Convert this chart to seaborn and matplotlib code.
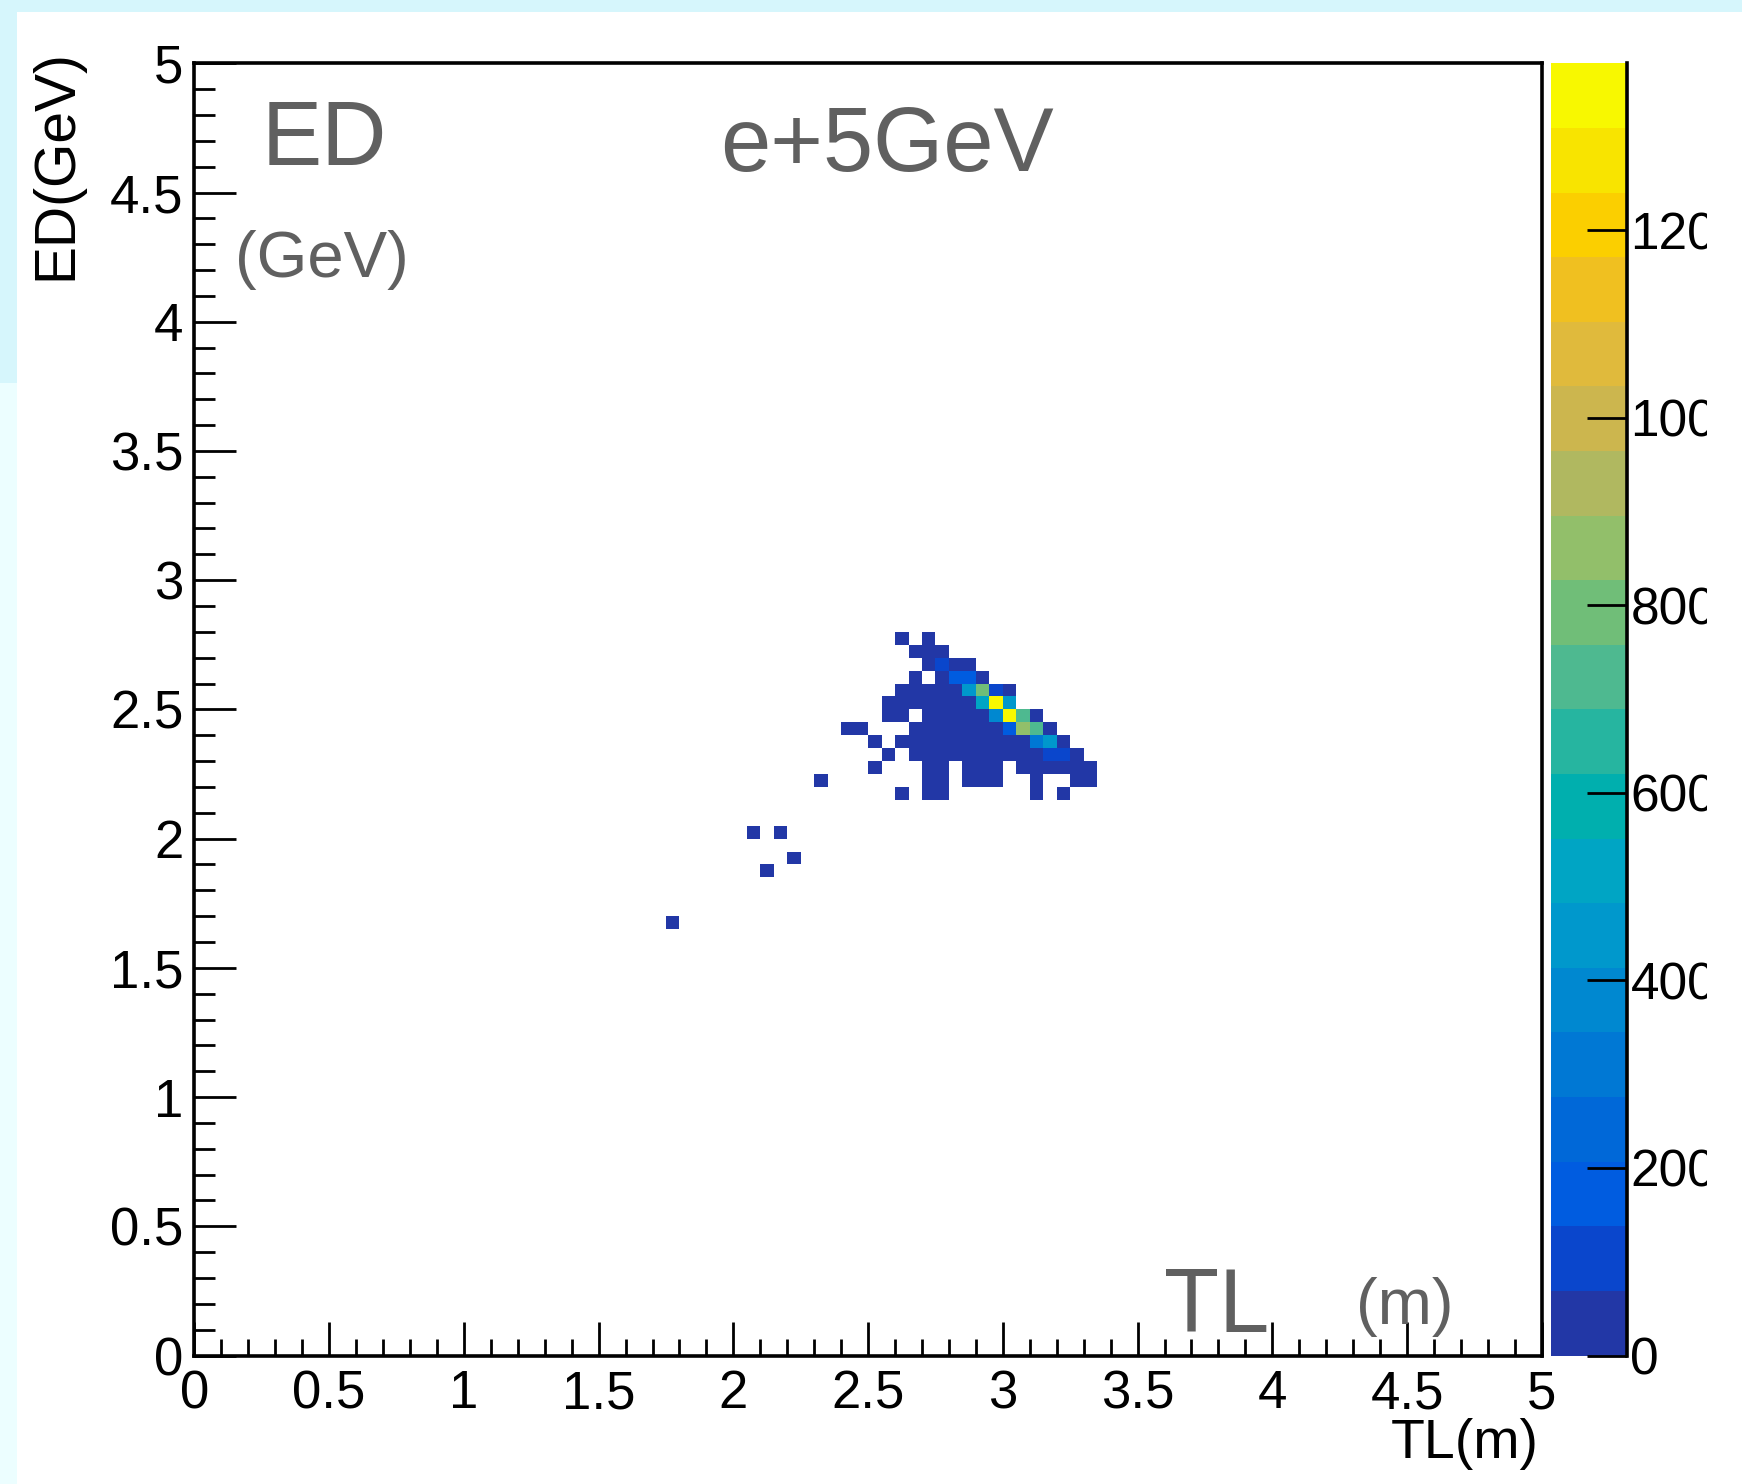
import numpy as np
import pandas as pd
import matplotlib
matplotlib.use("Agg")
import matplotlib.pyplot as plt
from matplotlib.colors import ListedColormap
from matplotlib.patches import Rectangle
from matplotlib.ticker import MultipleLocator
import seaborn as sns

# ---------------- data ----------------
bin_width = 0.05                 # histogram bin size, both axes
n_bins = 100                     # 0..5 in 100 bins
cluster_tl_first_edge = 2.30     # TL lower edge of first cluster column (m)
cluster_ed_top_edge = 2.75       # ED lower edge of top cluster row (GeV)

# counts of the main cluster: rows from top (ED high) to bottom, 21 TL columns
cluster_counts = [
    [0, 0, 0, 0, 0, 0, 12, 0, 8, 0, 0, 0, 0, 0, 0, 0, 0, 0, 0, 0, 0],
    [0, 0, 0, 0, 0, 0, 0, 15, 30, 25, 0, 0, 0, 0, 0, 0, 0, 0, 0, 0, 0],
    [0, 0, 0, 0, 0, 0, 0, 0, 35, 100, 55, 40, 0, 0, 0, 0, 0, 0, 0, 0, 0],
    [0, 0, 0, 0, 0, 0, 0, 10, 0, 60, 190, 195, 45, 0, 0, 0, 0, 0, 0, 0, 0],
    [0, 0, 0, 0, 0, 0, 20, 35, 50, 55, 65, 440, 790, 110, 30, 0, 0, 0, 0, 0, 0],
    [0, 0, 0, 0, 0, 15, 40, 50, 55, 60, 62, 66, 520, 1378, 450, 0, 0, 0, 0, 0, 0],
    [0, 0, 0, 0, 0, 18, 25, 0, 45, 58, 60, 64, 66, 380, 1330, 720, 25, 0, 0, 0, 0],
    [0, 0, 6, 8, 0, 0, 0, 30, 50, 58, 60, 62, 64, 66, 200, 860, 730, 20, 0, 0, 0],
    [0, 0, 0, 0, 5, 0, 12, 35, 48, 52, 55, 58, 60, 62, 64, 66, 290, 480, 22, 0, 0],
    [0, 0, 0, 0, 0, 4, 0, 20, 40, 45, 48, 50, 52, 55, 58, 60, 62, 110, 95, 18, 0],
    [0, 0, 0, 0, 3, 0, 0, 0, 25, 30, 0, 28, 35, 30, 0, 32, 38, 45, 40, 30, 15],
    [2, 0, 0, 0, 0, 0, 0, 0, 12, 18, 0, 14, 20, 16, 0, 0, 15, 0, 0, 12, 8],
    [0, 0, 0, 0, 0, 0, 3, 0, 8, 10, 0, 0, 0, 0, 0, 0, 6, 0, 4, 0, 0],
]

# isolated entries (bin centres)
isolated_tl = [2.075, 2.175, 2.225, 2.125, 1.775]
isolated_ed = [2.025, 2.025, 1.925, 1.875, 1.675]
isolated_counts = [2, 1, 2, 1, 1]

z_max = 1378
cbar_ticks = [0, 200, 400, 600, 800, 1000, 1200]
cbar_tick_labels = ["0", "200", "400", "600", "800", "1000", "1200"]
axis_ticks = [0, 0.5, 1, 1.5, 2, 2.5, 3, 3.5, 4, 4.5, 5]
axis_tick_labels = ["0", "0.5", "1", "1.5", "2", "2.5", "3", "3.5", "4", "4.5", "5"]

# 20-level palette (bottom -> top), as in the reference colour bar
palette_colors = ["#2237A6", "#0A46CC", "#005CE0", "#0068D8", "#0078D4",
                  "#0088D0", "#0098CC", "#00A5C4", "#00AFAE", "#26B5A0",
                  "#4EB990", "#70BE78", "#92BF6A", "#B0B860", "#CCB64E",
                  "#E0BA3C", "#F0C020", "#FBCF00", "#F8E400", "#F8F800"]

# ---------------- build long-form table ----------------
tl_vals, ed_vals, w_vals = [], [], []
for i, row in enumerate(cluster_counts):
    for j, c in enumerate(row):
        if c > 0:
            tl_vals.append(cluster_tl_first_edge + (j + 0.5) * bin_width)
            ed_vals.append(cluster_ed_top_edge + (0.5 - i) * bin_width)
            w_vals.append(c)
tl_vals += isolated_tl
ed_vals += isolated_ed
w_vals += isolated_counts
df = pd.DataFrame({"TL": tl_vals, "ED": ed_vals, "counts": w_vals})

# ---------------- figure ----------------
W, H = 1742, 1484
fig = plt.figure(figsize=(W / 100, H / 100), dpi=100)
fig.patch.set_facecolor("white")

def fx(px):
    return px / W

def fy(py):
    return 1 - py / H

ax_l, ax_r, ax_t, ax_b = 194.4, 1541.8, 63.3, 1355.5
ax = fig.add_axes([fx(ax_l), fy(ax_b), fx(ax_r - ax_l), (ax_b - ax_t) / H])
cax = fig.add_axes([fx(1551), fy(ax_b), fx(1627 - 1551), (ax_b - ax_t) / H])

cmap = ListedColormap(palette_colors)
sns.histplot(data=df, x="TL", y="ED", weights="counts", bins=n_bins,
             binrange=((0, 5), (0, 5)), cmap=cmap, vmin=0, vmax=z_max,
             thresh=0, cbar=True, cbar_ax=cax, ax=ax)

label_font = "Liberation Sans"
ax.set_xlim(0, 5)
ax.set_ylim(0, 5)
ax.set_xticks(axis_ticks)
ax.set_xticklabels(axis_tick_labels, fontsize=38, fontfamily=label_font)
ax.set_yticks(axis_ticks)
ax.set_yticklabels(axis_tick_labels, fontsize=38, fontfamily=label_font)
ax.xaxis.set_minor_locator(MultipleLocator(0.1))
ax.yaxis.set_minor_locator(MultipleLocator(0.1))
ax.tick_params(which="both", direction="in", top=False, right=False,
               width=2, color="black")
ax.tick_params(axis="x", which="major", length=24.5, pad=10)
ax.tick_params(axis="x", which="minor", length=12)
ax.tick_params(axis="y", which="major", length=30, pad=8)
ax.tick_params(axis="y", which="minor", length=15)
for sp in ax.spines.values():
    sp.set_linewidth(2.6)
    sp.set_color("black")

ax.set_xlabel("TL(m)", loc="right", fontsize=40, fontfamily=label_font)
ax.xaxis.set_label_coords(0.998, -0.048)
ax.set_ylabel("ED(GeV)", loc="top", fontsize=41, fontfamily=label_font)
ax.yaxis.set_label_coords(-0.0827, 1.011)

# colour bar styling (ROOT palette axis)
cb = ax.collections[0].colorbar
cb.outline.set_visible(False)
cb.set_ticks(cbar_ticks)
cb.set_ticklabels(cbar_tick_labels)
cb.minorticks_off()
cax.tick_params(axis="y", direction="in", length=29, width=2, pad=2.5,
                labelsize=37, right=True, left=False, color="black")
for lab in cax.get_yticklabels():
    lab.set_fontfamily(label_font)
cax.spines["right"].set_visible(True)
cax.spines["right"].set_linewidth(2.6)
cax.spines["right"].set_color("black")

# grey overlay annotations
grey = "#606060"
ann_font = "Liberation Sans"
fig.text(fx(262), fy(165), "ED", fontsize=65, color=grey, fontfamily=ann_font,
         ha="left", va="baseline")
fig.text(fx(235), fy(277), "(GeV)", fontsize=47, color=grey, fontfamily=ann_font,
         ha="left", va="baseline")
fig.text(fx(720), fy(171), "e+5GeV", fontsize=65, color=grey, fontfamily=ann_font,
         ha="left", va="baseline")
fig.text(fx(1164), fy(1332), "TL", fontsize=65, color=grey, fontfamily=ann_font,
         ha="left", va="baseline")
fig.text(fx(1356), fy(1324), "(m)", fontsize=47, color=grey, fontfamily=ann_font,
         ha="left", va="baseline")

# slide background strips and cropped right edge
fig.add_artist(Rectangle((0, fy(12)), 1, 12 / H, transform=fig.transFigure,
                         facecolor="#D6F6FC", edgecolor="none", zorder=-5))
fig.add_artist(Rectangle((0, fy(383)), fx(17), 371 / H, transform=fig.transFigure,
                         facecolor="#D6F6FC", edgecolor="none", zorder=-5))
fig.add_artist(Rectangle((0, 0), fx(17), fy(383), transform=fig.transFigure,
                         facecolor="#ECFEFF", edgecolor="none", zorder=-5))
fig.add_artist(Rectangle((fx(1707), 0), fx(W - 1707), fy(12), transform=fig.transFigure,
                         facecolor="white", edgecolor="none", zorder=10))

fig.savefig("out.png", dpi=100)
